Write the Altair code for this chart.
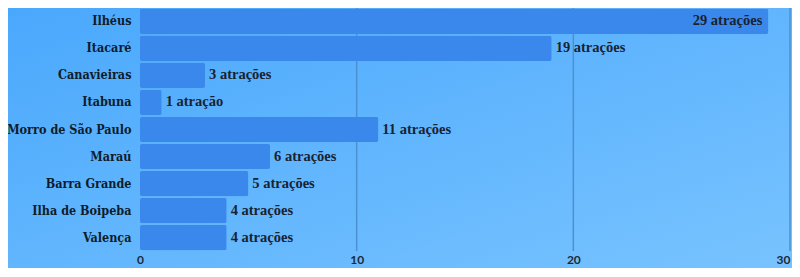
import altair as alt
import pandas as pd

cidades = ["Ilhéus", "Itacaré", "Canavieiras", "Itabuna", "Morro de São Paulo",
           "Maraú", "Barra Grande", "Ilha de Boipeba", "Valença"]
atracoes = [29, 19, 3, 1, 11, 6, 5, 4, 4]
eixo_valores = [0, 10, 20, 30]
grade = [10, 20, 30]

df = pd.DataFrame({"cidade": cidades, "valor": atracoes})
df_grade = pd.DataFrame({"g": grade})
df_fundo = pd.DataFrame({"k": [0]})

PW, PH = 650, 243
PAD = {"left": 132, "top": 0, "right": 2, "bottom": 17}

xscale = alt.Scale(domain=[0, 30], nice=False)
yenc = alt.Y("cidade:N", sort=cidades, title=None,
             scale=alt.Scale(paddingInner=0.07, paddingOuter=0.03),
             axis=alt.Axis(domain=False, ticks=False, labelPadding=9, zindex=1,
                           labelFont="DejaVu Serif Condensed", labelFontWeight="bold",
                           labelFontSize=12.5, labelColor="#0f1c2b", labelLimit=200))

grad = alt.LinearGradient(gradient="linear", x1=0, y1=0, x2=1, y2=1,
                          stops=[alt.GradientStop(offset=0, color="#4aa8fc"),
                                 alt.GradientStop(offset=1, color="#78c3ff")])

fundo = alt.Chart(df_fundo).mark_rect(color=grad).encode(
    x=alt.value(-PAD["left"]), x2=alt.value(PW + PAD["right"]),
    y=alt.value(-PAD["top"]), y2=alt.value(PH + PAD["bottom"]))

linhas = alt.Chart(df_grade).mark_rule(color="#4d90d2", strokeWidth=1.5).encode(
    x=alt.X("g:Q", scale=xscale))

barras = alt.Chart(df).mark_bar(color="#3a88ec", cornerRadius=2).encode(
    x=alt.X("valor:Q", scale=xscale, title=None,
            axis=alt.Axis(values=eixo_valores, grid=False, domain=False, ticks=False,
                          labelPadding=3, labelFlush=False, zindex=1, labelFont="Lato",
                          labelAlign=alt.expr("datum.value == 30 ? 'right' : 'center'"),
                          labelFontWeight="bold", labelFontSize=12, labelColor="#1b2a3a")),
    y=yenc)

rotulo_expr = "datum.valor + (datum.valor == 1 ? ' atração' : ' atrações')"
fonte = dict(font="Liberation Serif", fontWeight="bold", fontSize=14.5, color="#1a2230")

base_txt = alt.Chart(df).transform_calculate(rotulo=rotulo_expr).transform_joinaggregate(
    maximo="max(valor)")

fora = base_txt.transform_filter("datum.valor < datum.maximo").mark_text(
    align="left", baseline="middle", dx=4, **fonte).encode(
    x=alt.X("valor:Q", scale=xscale), y=alt.Y("cidade:N", sort=cidades), text="rotulo:N")

dentro = base_txt.transform_filter("datum.valor == datum.maximo").mark_text(
    align="right", baseline="middle", dx=-6, **fonte).encode(
    x=alt.X("valor:Q", scale=xscale), y=alt.Y("cidade:N", sort=cidades), text="rotulo:N")

chart = alt.layer(fundo, linhas, barras, fora, dentro).properties(
    width=PW, height=PH, autosize=alt.AutoSizeParams(type="none"), padding=PAD,
    background="#5fb4fc"
).configure_view(stroke=None)

chart.save("out.html", embed_options={"renderer": "svg", "actions": False})
